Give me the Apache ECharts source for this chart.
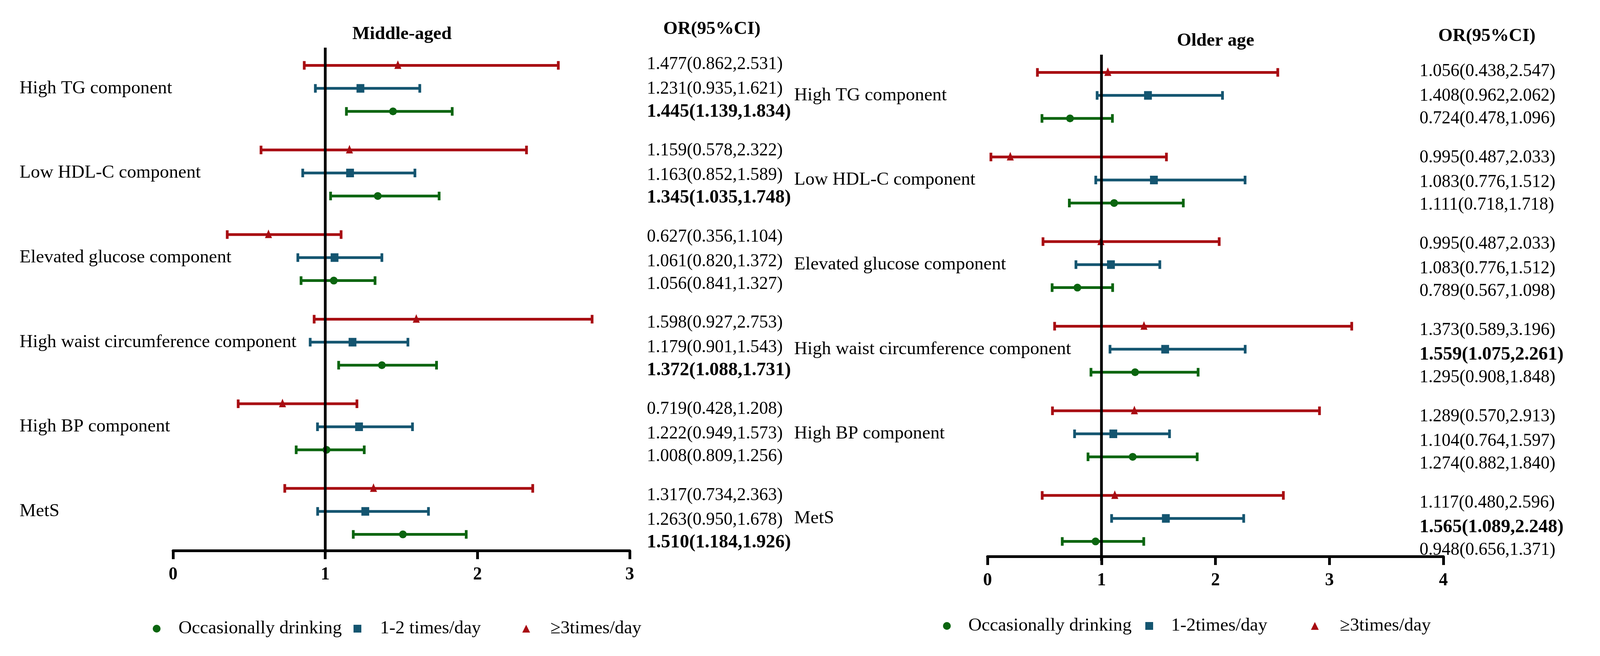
<!DOCTYPE html>
<html>
<head>
<meta charset="utf-8">
<script src="https://cdn.jsdelivr.net/npm/echarts@6/dist/echarts.min.js"></script>
<style>
html,body{margin:0;padding:0;background:#fff;overflow:hidden;}
#chart{width:100vw;height:100vh;}
</style>
</head>
<body>
<div id="chart"></div>
<script>
// ---------- DATA ----------
const categories = ['High TG component', 'Low HDL-C component', 'Elevated glucose component',
  'High waist circumference component', 'High BP component', 'MetS'];

const nameOcc = 'Occasionally drinking';
const nameDailyMid = '1-2 times/day';
const nameDailyOld = '1-2times/day';
const nameHeavy = '≥3times/day';

// Middle-aged (plotted OR and 95% CI)
const midOccOR   = [1.445, 1.345, 1.056, 1.372, 1.008, 1.510];
const midOccLo   = [1.139, 1.035, 0.841, 1.088, 0.809, 1.184];
const midOccHi   = [1.834, 1.748, 1.327, 1.731, 1.256, 1.926];
const midDailyOR = [1.231, 1.163, 1.061, 1.179, 1.222, 1.263];
const midDailyLo = [0.935, 0.852, 0.820, 0.901, 0.949, 0.950];
const midDailyHi = [1.621, 1.589, 1.372, 1.543, 1.573, 1.678];
const midHeavyOR = [1.477, 1.159, 0.627, 1.598, 0.719, 1.317];
const midHeavyLo = [0.862, 0.578, 0.356, 0.927, 0.428, 0.734];
const midHeavyHi = [2.531, 2.322, 1.104, 2.753, 1.208, 2.363];

// Older age (plotted OR and 95% CI, as drawn)
const oldOccOR   = [0.724, 1.111, 0.789, 1.295, 1.274, 0.948];
const oldOccLo   = [0.478, 0.718, 0.567, 0.908, 0.882, 0.656];
const oldOccHi   = [1.096, 1.718, 1.098, 1.848, 1.840, 1.371];
const oldDailyOR = [1.408, 1.46, 1.083, 1.559, 1.104, 1.565];
const oldDailyLo = [0.962, 0.95, 0.776, 1.075, 0.764, 1.089];
const oldDailyHi = [2.062, 2.26, 1.512, 2.261, 1.597, 2.248];
const oldHeavyOR = [1.056, 0.20, 0.995, 1.373, 1.289, 1.117];
const oldHeavyLo = [0.438, 0.03, 0.487, 0.589, 0.570, 0.480];
const oldHeavyHi = [2.547, 1.57, 2.033, 3.196, 2.913, 2.596];

// Printed OR(95%CI) text columns
const midTextHeavy = ['1.477(0.862,2.531)', '1.159(0.578,2.322)', '0.627(0.356,1.104)', '1.598(0.927,2.753)', '0.719(0.428,1.208)', '1.317(0.734,2.363)'];
const midTextDaily = ['1.231(0.935,1.621)', '1.163(0.852,1.589)', '1.061(0.820,1.372)', '1.179(0.901,1.543)', '1.222(0.949,1.573)', '1.263(0.950,1.678)'];
const midTextOcc   = ['1.445(1.139,1.834)', '1.345(1.035,1.748)', '1.056(0.841,1.327)', '1.372(1.088,1.731)', '1.008(0.809,1.256)', '1.510(1.184,1.926)'];
const oldTextHeavy = ['1.056(0.438,2.547)', '0.995(0.487,2.033)', '0.995(0.487,2.033)', '1.373(0.589,3.196)', '1.289(0.570,2.913)', '1.117(0.480,2.596)'];
const oldTextDaily = ['1.408(0.962,2.062)', '1.083(0.776,1.512)', '1.083(0.776,1.512)', '1.559(1.075,2.261)', '1.104(0.764,1.597)', '1.565(1.089,2.248)'];
const oldTextOcc   = ['0.724(0.478,1.096)', '1.111(0.718,1.718)', '0.789(0.567,1.098)', '1.295(0.908,1.848)', '1.274(0.882,1.840)', '0.948(0.656,1.371)'];

const midAxisMax = 3;
const oldAxisMax = 4;
const refLineValue = 1;

// ---------- STYLE / LAYOUT ----------
const FONT = 'Liberation Serif';
const GREEN = '#0A650F';
const BLUE = '#145570';
const RED = '#A80C12';
const OFF_HEAVY = -0.272, OFF_DAILY = 0, OFF_OCC = 0.272;

const el = document.getElementById('chart');
const W = el.clientWidth || window.innerWidth || 4510;
const sx = Math.min(1, W / 4510);          // horizontal fit of the 4510-wide design
const X = v => Math.round(v * sx);
const F = v => Math.round(v * sx * 10) / 10;

function build(or, lo, hi) {
  return categories.map((c, i) => [or[i], i, lo[i], hi[i]]);
}

function errRender(offsetFrac, shape, color) {
  return function (params, api) {
    const cat = api.value(1);
    const c = api.coord([api.value(0), cat]);
    const band = api.size([0, 1])[1];
    const y = c[1] + offsetFrac * band;
    const xl = api.coord([api.value(2), cat])[0];
    const xh = api.coord([api.value(3), cat])[0];
    const xm = c[0];
    const children = [
      { type: 'line', shape: { x1: xl, y1: y, x2: xh, y2: y }, style: { stroke: color, lineWidth: 7 } },
      { type: 'line', shape: { x1: xl, y1: y - 11, x2: xl, y2: y + 11 }, style: { stroke: color, lineWidth: 7 } },
      { type: 'line', shape: { x1: xh, y1: y - 11, x2: xh, y2: y + 11 }, style: { stroke: color, lineWidth: 7 } }
    ];
    if (shape === 'circle') {
      children.push({ type: 'circle', shape: { cx: xm, cy: y, r: 10 }, style: { fill: color } });
    } else if (shape === 'rect') {
      children.push({ type: 'rect', shape: { x: xm - 10, y: y - 11, width: 20, height: 22 }, style: { fill: color } });
    } else {
      children.push({ type: 'polygon', shape: { points: [[xm, y - 13], [xm - 9, y + 9], [xm + 9, y + 9]] }, style: { fill: color } });
    }
    return { type: 'group', children: children };
  };
}

function refRender(params, api) {
  const x = api.coord([api.value(0), 0])[0];
  const cs = params.coordSys;
  return { type: 'line', shape: { x1: x, y1: cs.y + 4, x2: x, y2: cs.y + cs.height }, style: { stroke: '#000', lineWidth: 7 } };
}

function isSig(s) {
  const m = s.match(/\(([\d.]+),([\d.]+)\)/);
  if (!m) return false;
  const lo = parseFloat(m[1]), hi = parseFloat(m[2]);
  return lo > 1 || hi < 1;
}

function textRender(cols) {
  const offs = [-0.285, 0, 0.263];
  return function (params, api) {
    const g = api.value(1);
    const k = api.value(2);
    const c = api.coord([0, g]);
    const band = api.size([0, 1])[1];
    const s = cols[k][g];
    const bold = isSig(s);
    return {
      type: 'text',
      style: {
        x: c[0], y: c[1] + offs[k] * band, text: s,
        fontFamily: FONT, fontSize: bold ? F(53) : F(50), fontWeight: bold ? 'bold' : 'normal',
        fill: '#000', align: 'left', verticalAlign: 'middle'
      }
    };
  };
}

function textData() {
  const d = [];
  categories.forEach((c, g) => { for (let k = 0; k < 3; k++) d.push([0, g, k]); });
  return d;
}

function valueAxis(gridIndex, max, offset) {
  return {
    type: 'value', gridIndex: gridIndex, min: 0, max: max, interval: 1, offset: offset,
    axisLine: { show: true, onZero: false, lineStyle: { color: '#000', width: 7 } },
    axisTick: { show: true, inside: false, length: 22, lineStyle: { color: '#000', width: 7 } },
    splitLine: { show: false },
    axisLabel: { fontFamily: FONT, fontSize: F(50), fontWeight: 'bold', color: '#000', margin: 37, lineHeight: 50,
      formatter: v => String(v) }
  };
}

function catAxis(gridIndex, margin) {
  return {
    type: 'category', gridIndex: gridIndex, data: categories, inverse: true,
    axisLine: { show: false }, axisTick: { show: false }, splitLine: { show: false },
    axisLabel: { align: 'left', margin: margin, fontFamily: FONT, fontSize: F(52), color: '#000', interval: 0 }
  };
}

function legendItem(name, icon, left, top, pad) {
  return {
    data: [{ name: name, icon: icon }],
    left: X(left), top: top, itemWidth: 20, itemHeight: 20, padding: 0,
    selectedMode: false,
    textStyle: { fontFamily: FONT, fontSize: F(52), color: '#000', lineHeight: 52, padding: [0, 0, 0, X(pad + 25) - 25] }
  };
}

const titleStyle = { fontFamily: FONT, fontSize: F(52), fontWeight: 'bold', color: '#000', lineHeight: 52 };

function errSeries(name, axisIdx, color, off, shape, or, lo, hi) {
  return {
    type: 'custom', name: name, xAxisIndex: axisIdx, yAxisIndex: axisIdx, itemStyle: { color: color },
    renderItem: errRender(off, shape, color), data: build(or, lo, hi),
    encode: { x: [0, 2, 3], y: 1 }
  };
}

const option = {
  backgroundColor: '#fff',
  animation: false,
  title: [
    { text: 'Middle-aged', left: X(993), top: 62, padding: 0, textStyle: titleStyle },
    { text: 'OR(95%CI)', left: X(1870), top: 49, padding: 0, textStyle: titleStyle },
    { text: 'Older age', left: X(3317), top: 79, padding: 0, textStyle: titleStyle },
    { text: 'OR(95%CI)', left: X(4054), top: 67, padding: 0, textStyle: titleStyle }
  ],
  legend: [
    legendItem(nameOcc, 'circle', 430, 1584, 48),
    legendItem(nameDailyMid, 'rect', 997, 1584, 50),
    legendItem(nameHeavy, 'triangle', 1472, 1584, 54),
    legendItem(nameOcc, 'circle', 2658, 1577, 47),
    legendItem(nameDailyOld, 'rect', 3228, 1577, 48),
    legendItem(nameHeavy, 'triangle', 3695, 1577, 56)
  ],
  grid: [
    { left: X(488), top: 118, width: X(1775) - X(488), height: 1300 },
    { left: X(2784), top: 136, width: X(4068) - X(2784), height: 1300 },
    { left: X(1823), top: 118, width: X(400), height: 1324 },
    { left: X(4001), top: 136, width: X(400), height: 1325 }
  ],
  xAxis: [
    valueAxis(0, midAxisMax, -8),
    valueAxis(1, oldAxisMax, -11),
    { type: 'value', gridIndex: 2, min: 0, max: 1, show: false },
    { type: 'value', gridIndex: 3, min: 0, max: 1, show: false }
  ],
  yAxis: [
    catAxis(0, X(488) - X(55)),
    catAxis(1, X(2784) - X(2239)),
    { type: 'category', gridIndex: 2, data: categories, inverse: true, show: false },
    { type: 'category', gridIndex: 3, data: categories, inverse: true, show: false }
  ],
  series: [
    errSeries(nameHeavy, 0, RED, OFF_HEAVY, 'triangle', midHeavyOR, midHeavyLo, midHeavyHi),
    errSeries(nameDailyMid, 0, BLUE, OFF_DAILY, 'rect', midDailyOR, midDailyLo, midDailyHi),
    errSeries(nameOcc, 0, GREEN, OFF_OCC, 'circle', midOccOR, midOccLo, midOccHi),
    errSeries(nameHeavy, 1, RED, OFF_HEAVY, 'triangle', oldHeavyOR, oldHeavyLo, oldHeavyHi),
    errSeries(nameDailyOld, 1, BLUE, OFF_DAILY, 'rect', oldDailyOR, oldDailyLo, oldDailyHi),
    errSeries(nameOcc, 1, GREEN, OFF_OCC, 'circle', oldOccOR, oldOccLo, oldOccHi),
    { type: 'custom', name: 'refMid', xAxisIndex: 0, yAxisIndex: 0, silent: true, z: 10,
      renderItem: refRender, data: [[refLineValue, 0]], encode: { x: 0, y: 1 } },
    { type: 'custom', name: 'refOld', xAxisIndex: 1, yAxisIndex: 1, silent: true, z: 10,
      renderItem: refRender, data: [[refLineValue, 0]], encode: { x: 0, y: 1 } },
    { type: 'custom', name: 'midText', xAxisIndex: 2, yAxisIndex: 2, silent: true,
      renderItem: textRender([midTextHeavy, midTextDaily, midTextOcc]), data: textData(), encode: { x: 0, y: 1 } },
    { type: 'custom', name: 'oldText', xAxisIndex: 3, yAxisIndex: 3, silent: true,
      renderItem: textRender([oldTextHeavy, oldTextDaily, oldTextOcc]), data: textData(), encode: { x: 0, y: 1 } }
  ]
};

const chart = echarts.init(el, null, { renderer: 'canvas' });
chart.setOption(option);
</script>
</body>
</html>
